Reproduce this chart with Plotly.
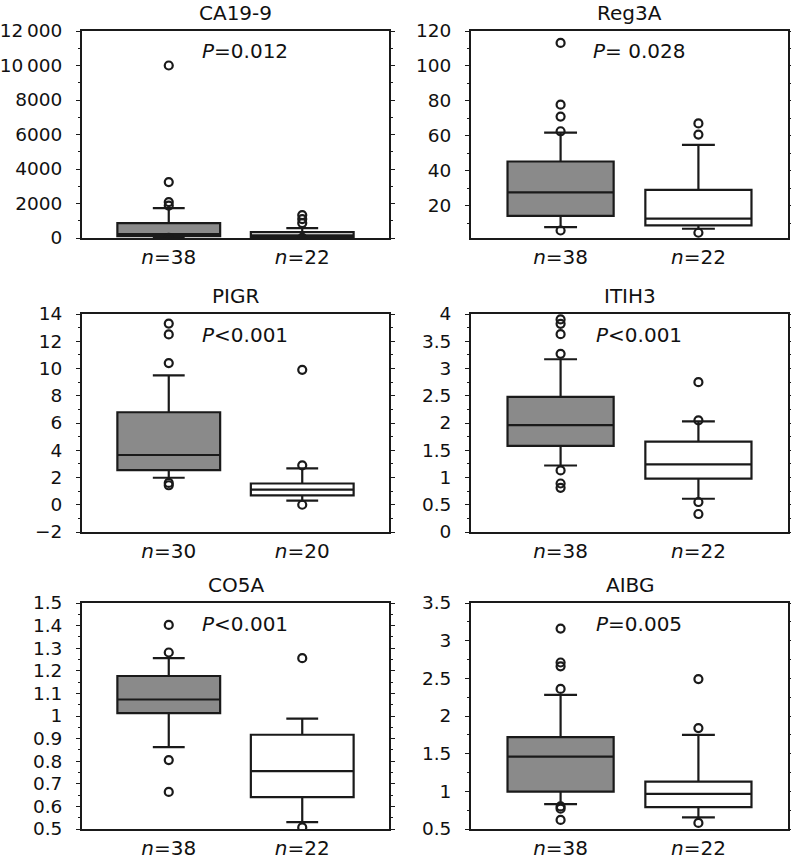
import plotly.graph_objects as go

titles = ["CA19-9", "Reg3A", "PIGR", "ITIH3", "CO5A", "AIBG"]
pvals = ["<i>P</i>=0.012", "<i>P</i>= 0.028", "<i>P</i><0.001",
         "<i>P</i><0.001", "<i>P</i><0.001", "<i>P</i>=0.005"]
n_labels = [["38", "22"], ["38", "22"], ["30", "20"],
            ["38", "22"], ["38", "22"], ["38", "22"]]

# box statistics: [group 1 (grey), group 2 (white)] per marker
lowerfence = [[40, 30], [7.7, 6.8], [1.98, 0.30], [1.22, 0.61], [0.862, 0.530], [0.83, 0.655]]
q1 = [[110, 45], [14.2, 8.7], [2.54, 0.69], [1.58, 0.98], [1.013, 0.641], [0.996, 0.79]]
median = [[220, 150], [27.6, 12.6], [3.65, 1.11], [1.96, 1.24], [1.073, 0.756], [1.46, 0.965]]
q3 = [[865, 346], [45.3, 29.1], [6.79, 1.56], [2.48, 1.66], [1.177, 0.917], [1.72, 1.13]]
upperfence = [[1735, 577], [61.8, 54.8], [9.5, 2.67], [3.17, 2.03], [1.256, 0.988], [2.28, 1.75]]

outliers = [
    [[10000, 3240, 2080, 1880, 5], [1330, 1100, 865, 5]],
    [[113.2, 77.8, 71, 62.6, 5.8], [67.1, 60.7, 4.5]],
    [[13.3, 12.5, 10.4, 1.6, 1.43], [9.9, 2.89, 0.0]],
    [[3.90, 3.82, 3.63, 3.27, 1.13, 0.89, 0.81], [2.75, 2.05, 0.55, 0.33]],
    [[1.403, 1.281, 0.805, 0.664], [1.256, 0.507]],
    [[3.16, 2.71, 2.66, 2.36, 0.80, 0.77, 0.62], [2.49, 1.84, 0.58]],
]

y_ranges = [[0, 12000], [1.5, 120], [-2, 14], [0, 4], [0.5, 1.5], [0.5, 3.5]]
y_tickvals = [
    [0, 2000, 4000, 6000, 8000, 10000, 12000],
    [20, 40, 60, 80, 100, 120],
    [-2, 0, 2, 4, 6, 8, 10, 12, 14],
    [0, 0.5, 1, 1.5, 2, 2.5, 3, 3.5, 4],
    [0.5, 0.6, 0.7, 0.8, 0.9, 1, 1.1, 1.2, 1.3, 1.4, 1.5],
    [0.5, 1, 1.5, 2, 2.5, 3, 3.5],
]
y_ticktext = [
    ["0", "2000", "4000", "6000", "8000", "10\u2009000", "12\u2009000"],
    ["20", "40", "60", "80", "100", "120"],
    ["\u22122", "0", "2", "4", "6", "8", "10", "12", "14"],
    ["0", "0.5", "1", "1.5", "2", "2.5", "3", "3.5", "4"],
    ["0.5", "0.6", "0.7", "0.8", "0.9", "1", "1.1", "1.2", "1.3", "1.4", "1.5"],
    ["0.5", "1", "1.5", "2", "2.5", "3", "3.5"],
]
y_minor = [1000, 10, 1, 0.25, 0.05, 0.25]

positions = [1, 2]
fills = ["#8a8a8a", "#ffffff"]

W, H = 791, 860
cols_px = [(82, 389), (471, 788)]
rows_px = [(31, 238), (314, 532), (603, 829)]

FONT = "DejaVu Sans"

def fx(px):
    return px / W

def fy(py):
    return 1 - py / H

fig = go.Figure()
annotations = []
for i in range(6):
    r, c = divmod(i, 2)
    xl, xr = cols_px[c]
    yt, yb = rows_px[r]
    ax = "" if i == 0 else str(i + 1)
    xname, yname = "x" + ax, "y" + ax
    for g in range(2):
        fig.add_trace(go.Box(
            x=[positions[g]], q1=[q1[i][g]], median=[median[i][g]], q3=[q3[i][g]],
            lowerfence=[lowerfence[i][g]], upperfence=[upperfence[i][g]],
            width=0.77, whiskerwidth=0.31, fillcolor=fills[g],
            line=dict(color="#1a1a1a", width=2.2), boxpoints=False,
            xaxis=xname, yaxis=yname, showlegend=False, hoverinfo="skip",
        ))
        fig.add_trace(go.Scatter(
            x=[positions[g]] * len(outliers[i][g]), y=outliers[i][g], mode="markers",
            marker=dict(symbol="circle-open", size=8, color="#1a1a1a", line=dict(width=2.2)),
            xaxis=xname, yaxis=yname, showlegend=False, hoverinfo="skip",
        ))
    xd = [fx(xl), fx(xr)]
    yd = [fy(yb), fy(yt)]
    fig.layout[("xaxis" + ax)] = dict(
        domain=xd, range=[0.35, 2.65], anchor=yname, automargin=False,
        tickvals=positions,
        ticktext=["<i>n</i>=" + n_labels[i][0], "<i>n</i>=" + n_labels[i][1]],
        ticks="", showline=True, mirror=True, linecolor="#1a1a1a", linewidth=2,
        showgrid=False, zeroline=False, ticklabelstandoff=0,
        tickfont=dict(family=FONT, size=20, color="#111111"),
    )
    fig.layout[("yaxis" + ax)] = dict(
        domain=yd, range=y_ranges[i], anchor=xname, automargin=False,
        tickvals=y_tickvals[i], ticktext=y_ticktext[i],
        ticks="outside", ticklen=4, tickwidth=1.3, tickcolor="#1a1a1a",
        minor=dict(dtick=y_minor[i], ticks="outside", ticklen=2, tickcolor="#1a1a1a"),
        showline=True, mirror="ticks", linecolor="#1a1a1a", linewidth=2,
        showgrid=False, zeroline=False, ticklabelstandoff=10,
        tickfont=dict(family=FONT, size=18.5, color="#111111"),
    )
    annotations.append(dict(
        text=titles[i], x=fx((xl + xr) / 2), y=fy(yt - 18), xref="paper", yref="paper",
        showarrow=False, font=dict(family=FONT, size=20, color="#111111"),
        xanchor="center", yanchor="middle",
    ))
    annotations.append(dict(
        text=pvals[i], x=0.53, y=0.905, xref=xname + " domain", yref=yname + " domain",
        showarrow=False, font=dict(family=FONT, size=20, color="#111111"),
        xanchor="center", yanchor="middle",
    ))

fig.update_layout(
    width=W, height=H, margin=dict(l=0, r=0, t=0, b=0),
    paper_bgcolor="white", plot_bgcolor="white",
    annotations=annotations, showlegend=False,
)
fig.write_html("out.html", config={"displayModeBar": False},
               post_script="document.body.style.margin='0';")
